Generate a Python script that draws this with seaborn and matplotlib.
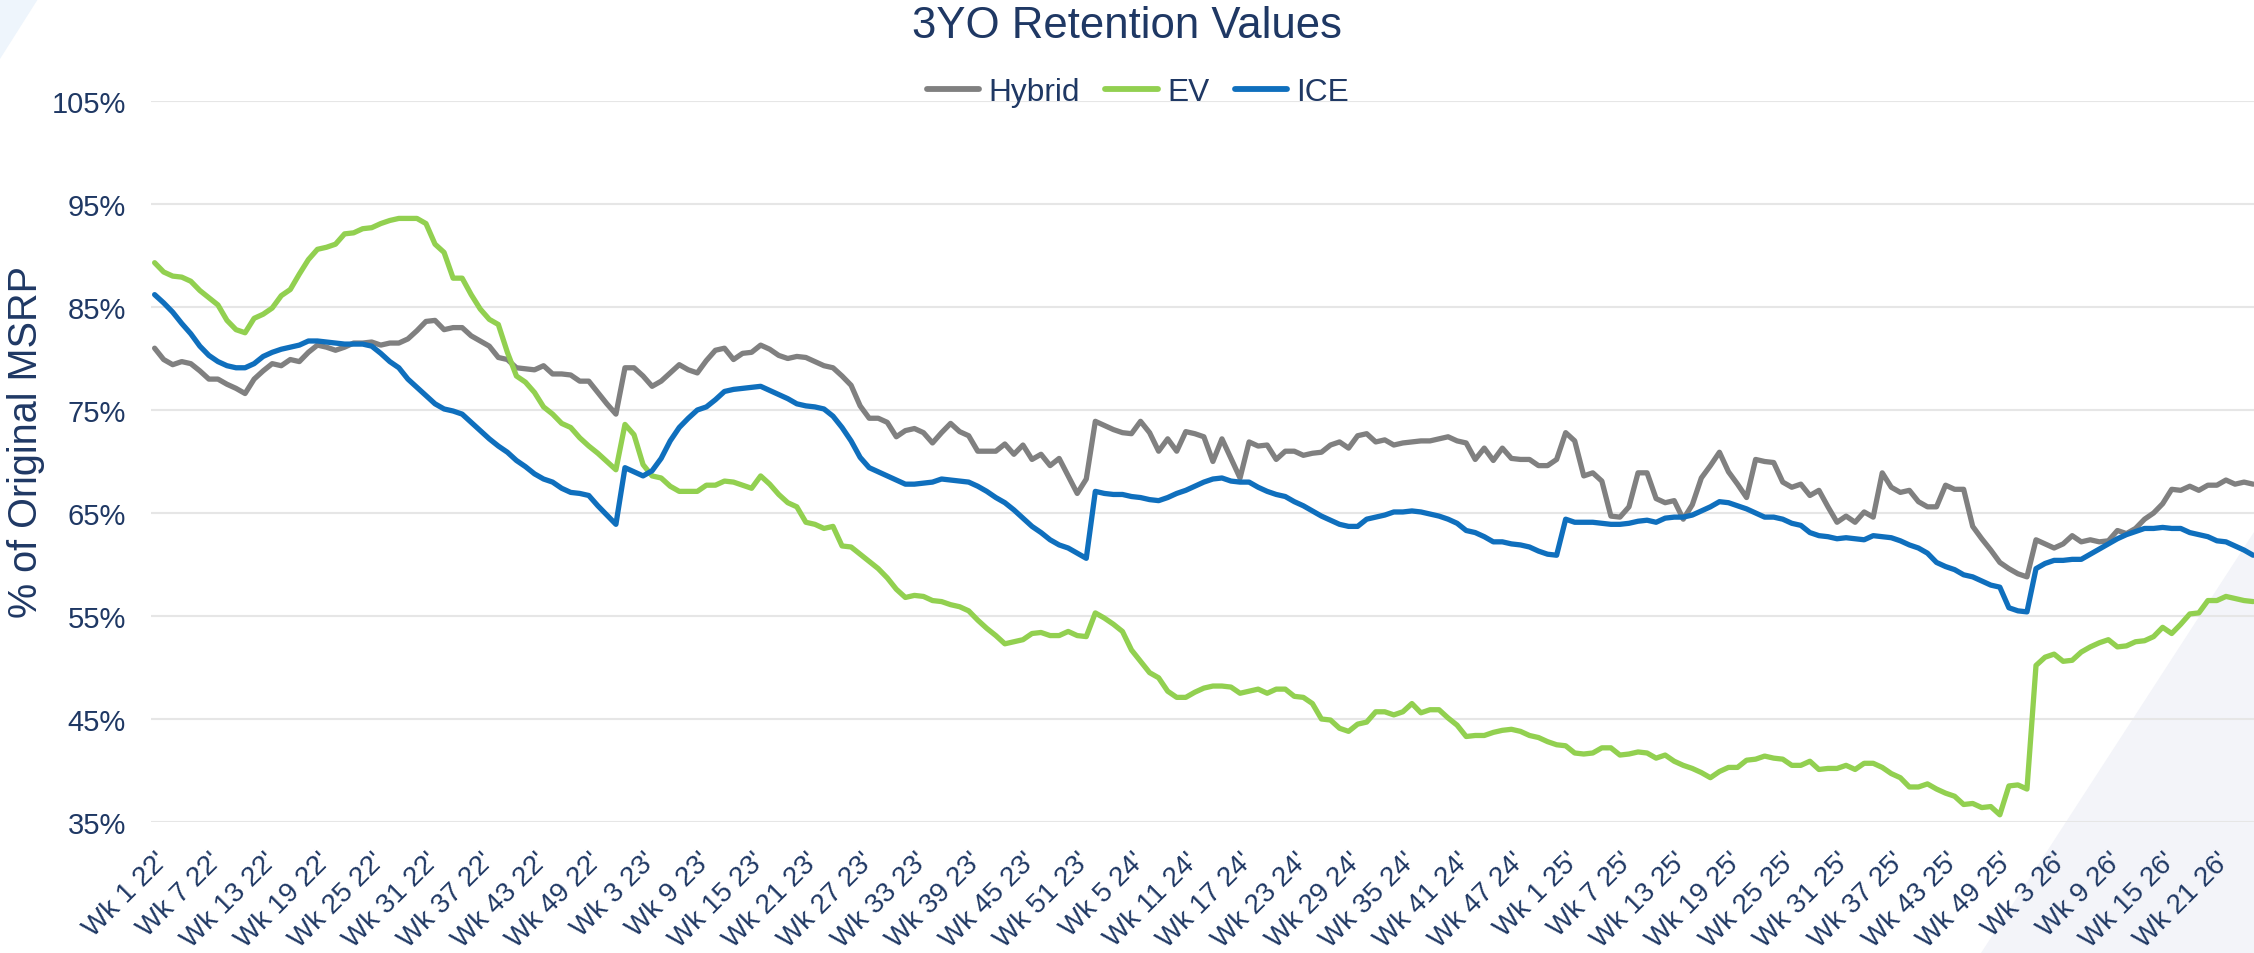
import matplotlib
matplotlib.use("Agg")
import matplotlib.pyplot as plt
from matplotlib.patches import Polygon
import pandas as pd
import seaborn as sns

# weekly 3-year-old retention, % of original MSRP, Wk 1 22' .. Wk 25 26'
hybrid = [
    81.0, 79.9, 79.4, 79.7, 79.5, 78.8, 78.0, 78.0, 77.5, 77.1,
    76.6, 78.0, 78.8, 79.5, 79.3, 79.9, 79.7, 80.6, 81.3, 81.1,
    80.8, 81.1, 81.5, 81.5, 81.6, 81.3, 81.5, 81.5, 81.9, 82.7,
    83.6, 83.7, 82.8, 83.0, 83.0, 82.2, 81.7, 81.2, 80.1, 79.9,
    79.1, 79.0, 78.9, 79.3, 78.5, 78.5, 78.4, 77.8, 77.8, 76.7,
    75.6, 74.6, 79.1, 79.1, 78.3, 77.3, 77.8, 78.6, 79.4, 78.9,
    78.6, 79.8, 80.8, 81.0, 79.9, 80.5, 80.6, 81.3, 80.9, 80.3,
    80.0, 80.2, 80.1, 79.7, 79.3, 79.1, 78.3, 77.4, 75.4, 74.2,
    74.2, 73.8, 72.4, 73.0, 73.2, 72.8, 71.8, 72.8, 73.7, 72.9,
    72.5, 71.0, 71.0, 71.0, 71.7, 70.7, 71.6, 70.2, 70.7, 69.6,
    70.3, 68.6, 66.9, 68.3, 73.9, 73.5, 73.1, 72.8, 72.7, 73.9,
    72.8, 71.0, 72.2, 71.0, 72.9, 72.7, 72.4, 70.0, 72.2, 70.3,
    68.4, 71.9, 71.5, 71.6, 70.2, 71.0, 71.0, 70.6, 70.8, 70.9,
    71.6, 71.9, 71.3, 72.5, 72.7, 71.9, 72.1, 71.6, 71.8, 71.9,
    72.0, 72.0, 72.2, 72.4, 72.0, 71.8, 70.2, 71.3, 70.1, 71.3,
    70.3, 70.2, 70.2, 69.6, 69.6, 70.2, 72.8, 72.0, 68.6, 68.9,
    68.1, 64.7, 64.6, 65.6, 68.9, 68.9, 66.4, 66.0, 66.2, 64.4,
    65.8, 68.4, 69.6, 70.9, 69.0, 67.8, 66.5, 70.2, 70.0, 69.9,
    68.0, 67.5, 67.8, 66.7, 67.2, 65.6, 64.1, 64.7, 64.1, 65.1,
    64.6, 68.9, 67.5, 67.0, 67.2, 66.1, 65.6, 65.6, 67.7, 67.3,
    67.3, 63.7, 62.5, 61.4, 60.2, 59.6, 59.1, 58.8, 62.4, 62.0,
    61.6, 62.0, 62.8, 62.2, 62.4, 62.2, 62.3, 63.3, 63.0, 63.5,
    64.4, 65.0, 65.9, 67.3, 67.2, 67.6, 67.2, 67.7, 67.7, 68.2,
    67.8, 68.0, 67.8,
]

ev = [
    89.3, 88.4, 88.0, 87.9, 87.5, 86.6, 85.9, 85.2, 83.7, 82.8,
    82.5, 83.9, 84.3, 84.9, 86.1, 86.7, 88.2, 89.6, 90.6, 90.8,
    91.1, 92.1, 92.2, 92.6, 92.7, 93.1, 93.4, 93.6, 93.6, 93.6,
    93.1, 91.1, 90.3, 87.8, 87.8, 86.2, 84.8, 83.8, 83.3, 80.6,
    78.3, 77.7, 76.7, 75.3, 74.6, 73.7, 73.3, 72.3, 71.5, 70.8,
    70.0, 69.2, 73.6, 72.6, 69.7, 68.6, 68.4, 67.6, 67.1, 67.1,
    67.1, 67.7, 67.7, 68.1, 68.0, 67.7, 67.4, 68.6, 67.8, 66.8,
    66.0, 65.6, 64.1, 63.9, 63.5, 63.7, 61.8, 61.7, 61.0, 60.3,
    59.6, 58.7, 57.6, 56.8, 57.0, 56.9, 56.5, 56.4, 56.1, 55.9,
    55.5, 54.6, 53.8, 53.1, 52.3, 52.5, 52.7, 53.3, 53.4, 53.1,
    53.1, 53.5, 53.1, 53.0, 55.3, 54.8, 54.2, 53.5, 51.7, 50.6,
    49.5, 49.0, 47.7, 47.1, 47.1, 47.6, 48.0, 48.2, 48.2, 48.1,
    47.5, 47.7, 47.9, 47.5, 47.9, 47.9, 47.2, 47.1, 46.5, 45.0,
    44.9, 44.1, 43.8, 44.5, 44.7, 45.7, 45.7, 45.4, 45.7, 46.5,
    45.6, 45.9, 45.9, 45.1, 44.4, 43.3, 43.4, 43.4, 43.7, 43.9,
    44.0, 43.8, 43.4, 43.2, 42.8, 42.5, 42.4, 41.7, 41.6, 41.7,
    42.2, 42.2, 41.5, 41.6, 41.8, 41.7, 41.2, 41.5, 40.9, 40.5,
    40.2, 39.8, 39.3, 39.9, 40.3, 40.3, 41.0, 41.1, 41.4, 41.2,
    41.1, 40.5, 40.5, 40.9, 40.1, 40.2, 40.2, 40.5, 40.1, 40.7,
    40.7, 40.3, 39.7, 39.3, 38.4, 38.4, 38.7, 38.2, 37.8, 37.5,
    36.7, 36.8, 36.4, 36.5, 35.7, 38.5, 38.6, 38.2, 50.2, 51.0,
    51.3, 50.6, 50.7, 51.5, 52.0, 52.4, 52.7, 52.0, 52.1, 52.5,
    52.6, 53.0, 53.9, 53.3, 54.2, 55.2, 55.3, 56.5, 56.5, 56.9,
    56.7, 56.5, 56.4,
]

ice = [
    86.2, 85.4, 84.5, 83.4, 82.4, 81.2, 80.3, 79.7, 79.3, 79.1,
    79.1, 79.5, 80.2, 80.6, 80.9, 81.1, 81.3, 81.7, 81.7, 81.6,
    81.5, 81.4, 81.4, 81.4, 81.2, 80.5, 79.7, 79.1, 78.0, 77.2,
    76.4, 75.6, 75.1, 74.9, 74.6, 73.8, 73.0, 72.2, 71.5, 70.9,
    70.1, 69.5, 68.8, 68.3, 68.0, 67.4, 67.0, 66.9, 66.7, 65.7,
    64.8, 63.9, 69.4, 69.0, 68.6, 69.1, 70.3, 72.0, 73.3, 74.2,
    75.0, 75.3, 76.0, 76.8, 77.0, 77.1, 77.2, 77.3, 76.9, 76.5,
    76.1, 75.6, 75.4, 75.3, 75.1, 74.4, 73.3, 72.0, 70.4, 69.4,
    69.0, 68.6, 68.2, 67.8, 67.8, 67.9, 68.0, 68.3, 68.2, 68.1,
    68.0, 67.6, 67.1, 66.5, 66.0, 65.3, 64.5, 63.7, 63.1, 62.4,
    61.9, 61.6, 61.1, 60.6, 67.1, 66.9, 66.8, 66.8, 66.6, 66.5,
    66.3, 66.2, 66.5, 66.9, 67.2, 67.6, 68.0, 68.3, 68.4, 68.1,
    68.0, 68.0, 67.5, 67.1, 66.8, 66.6, 66.1, 65.7, 65.2, 64.7,
    64.3, 63.9, 63.7, 63.7, 64.4, 64.6, 64.8, 65.1, 65.1, 65.2,
    65.1, 64.9, 64.7, 64.4, 64.0, 63.3, 63.1, 62.7, 62.2, 62.2,
    62.0, 61.9, 61.7, 61.3, 61.0, 60.9, 64.4, 64.1, 64.1, 64.1,
    64.0, 63.9, 63.9, 64.0, 64.2, 64.3, 64.1, 64.5, 64.6, 64.6,
    64.8, 65.2, 65.6, 66.1, 66.0, 65.7, 65.4, 65.0, 64.6, 64.6,
    64.4, 64.0, 63.8, 63.1, 62.8, 62.7, 62.5, 62.6, 62.5, 62.4,
    62.8, 62.7, 62.6, 62.3, 61.9, 61.6, 61.1, 60.2, 59.8, 59.5,
    59.0, 58.8, 58.4, 58.0, 57.8, 55.8, 55.5, 55.4, 59.6, 60.1,
    60.4, 60.4, 60.5, 60.5, 61.0, 61.5, 62.0, 62.5, 62.9, 63.2,
    63.5, 63.5, 63.6, 63.5, 63.5, 63.1, 62.9, 62.7, 62.3, 62.2,
    61.8, 61.4, 60.9,
]

tick_labels = [
    "Wk 1 22'", "Wk 7 22'", "Wk 13 22'", "Wk 19 22'", "Wk 25 22'", "Wk 31 22'",
    "Wk 37 22'", "Wk 43 22'", "Wk 49 22'", "Wk 3 23'", "Wk 9 23'", "Wk 15 23'",
    "Wk 21 23'", "Wk 27 23'", "Wk 33 23'", "Wk 39 23'", "Wk 45 23'", "Wk 51 23'",
    "Wk 5 24'", "Wk 11 24'", "Wk 17 24'", "Wk 23 24'", "Wk 29 24'", "Wk 35 24'",
    "Wk 41 24'", "Wk 47 24'", "Wk 1 25'", "Wk 7 25'", "Wk 13 25'", "Wk 19 25'",
    "Wk 25 25'", "Wk 31 25'", "Wk 37 25'", "Wk 43 25'", "Wk 49 25'", "Wk 3 26'",
    "Wk 9 26'", "Wk 15 26'", "Wk 21 26'",
]
y_ticks = [35, 45, 55, 65, 75, 85, 95, 105]

segments = ["Hybrid", "EV", "ICE"]
palette = {"Hybrid": "#808080", "EV": "#92D050", "ICE": "#0F6FBD"}

frames = []
for name, vals in zip(segments, [hybrid, ev, ice]):
    frames.append(pd.DataFrame({"week": range(len(vals)), "segment": name, "retention": vals}))
df = pd.concat(frames, ignore_index=True)

sns.set_theme(style="white")
plt.rcParams["font.family"] = ["Liberation Sans", "DejaVu Sans"]
navy = "#1F3864"

W, H = 2254, 954
fig = plt.figure(figsize=(W / 100, H / 100), dpi=100)


def fig_pts(pts):
    return [(x / W, 1 - y / H) for x, y in pts]


# faint decorative corners of the slide background, kept behind the axes
fig.patches.append(Polygon(fig_pts([(0, 0), (38, 0), (0, 60)]), closed=True,
                           transform=fig.transFigure, facecolor="#EEF5FC",
                           edgecolor="none", zorder=-5))
fig.patches.append(Polygon(fig_pts([(1981, 954), (2254, 533), (2254, 954)]), closed=True,
                           transform=fig.transFigure, facecolor="#F3F4F9",
                           edgecolor="none", zorder=-5))

ax = fig.add_axes([151 / W, 1 - 823 / H, (W - 151) / W, 721 / H])
ax.patch.set_alpha(0)

sns.lineplot(data=df, x="week", y="retention", hue="segment", hue_order=segments,
             palette=palette, linewidth=3.8, errorbar=None, ax=ax)

ax.set_ylim(35, 105)
ax.set_yticks(y_ticks)
ax.set_yticklabels([f"{v}%" for v in y_ticks])
ax.set_xlim(-0.4, 232.1)
ax.set_xticks([6 * k for k in range(len(tick_labels))])
ax.set_xticklabels(tick_labels, rotation=45, ha="right", va="top",
                   rotation_mode="anchor", fontsize=20, color=navy)
ax.tick_params(axis="x", length=0, pad=18)
ax.tick_params(axis="y", length=0, pad=18, labelsize=21, labelcolor=navy)
ax.grid(False)
ax.yaxis.grid(True, color="#E6E6E6", linewidth=1.5)
for s in ax.spines.values():
    s.set_visible(False)
ax.set_xlabel("")
ax.set_ylabel("")

handles, labels = ax.get_legend_handles_labels()
ax.get_legend().remove()
leg = fig.legend(handles, labels, loc="center", bbox_to_anchor=(1138 / W, 1 - 93 / H),
                 ncol=3, frameon=False, fontsize=22.8, handlelength=1.65,
                 handletextpad=0.3, columnspacing=0.8, labelcolor=navy)
for h in leg.legend_handles:
    h.set_linewidth(4.2)

fig.text(26 / W, 1 - 442 / H, "% of Original MSRP", rotation=90, ha="center",
         va="center", fontsize=28.5, color=navy)
fig.text(1127 / W, 1 - 27 / H, "3YO Retention Values", ha="center", va="center",
         fontsize=31.5, color=navy)

fig.savefig("out.png", dpi=100)
